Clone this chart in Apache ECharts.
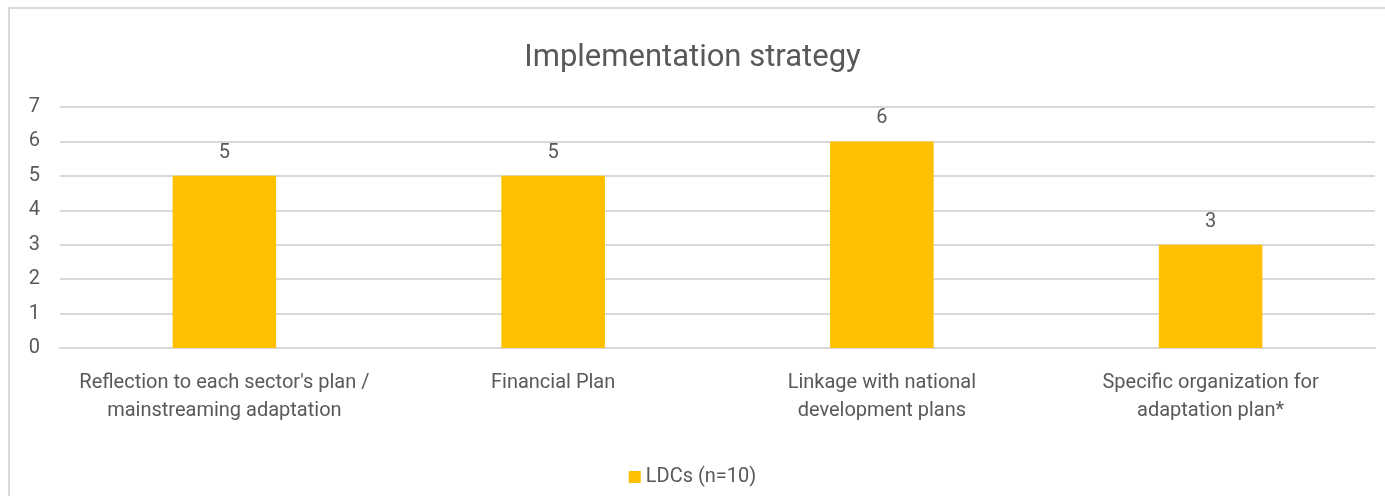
<!DOCTYPE html>
<html>
<head>
<meta charset="utf-8">
<script src="https://cdn.jsdelivr.net/npm/echarts@6/dist/echarts.min.js"></script>
<style>
  html, body { margin: 0; padding: 0; background: #fff; }
  #main { width: 1385px; height: 496px; }
</style>
</head>
<body>
<div id="main"></div>
<script>
const categories = [
  "Reflection to each sector's plan /\nmainstreaming adaptation",
  'Financial Plan',
  'Linkage with national\ndevelopment plans',
  'Specific organization for\nadaptation plan*'
];
const seriesName = 'LDCs (n=10)';
const values = [5, 5, 6, 3];
const yTicks = [0, 1, 2, 3, 4, 5, 6, 7];

const font = '"Roboto", "Liberation Sans", sans-serif';
const grey = '#595959';

let myChart = echarts.init(document.getElementById('main'));

const option = {
  backgroundColor: '#fff',
  textStyle: { fontFamily: font },
  title: {
    text: 'Implementation strategy',
    left: 'center',
    top: 38,
    textStyle: { fontFamily: font, fontSize: 31, fontWeight: 'normal', color: grey }
  },
  legend: {
    data: [seriesName],
    bottom: 4,
    left: 'center',
    icon: 'rect',
    itemWidth: 12,
    itemHeight: 12,
    itemGap: 7,
    textStyle: { fontFamily: font, fontSize: 20, color: grey }
  },
  grid: { left: 60, right: 10, top: 107, bottom: 148, containLabel: false },
  xAxis: {
    type: 'category',
    data: categories,
    axisLine: { show: true, lineStyle: { color: '#d9d9d9', width: 2 } },
    axisTick: { show: false },
    axisLabel: {
      interval: 0,
      margin: 21,
      fontFamily: font,
      fontSize: 20,
      lineHeight: 28,
      color: grey
    }
  },
  yAxis: {
    type: 'value',
    min: yTicks[0],
    max: yTicks[yTicks.length - 1],
    interval: 1,
    axisLine: { show: false },
    axisTick: { show: false },
    splitLine: { lineStyle: { color: '#d9d9d9', width: 2 } },
    axisLabel: { fontFamily: font, fontSize: 20, color: grey, margin: 20 }
  },
  series: [
    {
      name: seriesName,
      type: 'bar',
      data: values,
      barWidth: '31.5%',
      itemStyle: { color: '#ffc000' },
      label: {
        show: true,
        position: 'top',
        distance: 13,
        fontFamily: font,
        fontSize: 20,
        color: grey
      }
    }
  ],
  graphic: [
    {
      type: 'polyline',
      shape: { points: [[9, 496], [9, 8], [1385, 8]] },
      style: { stroke: '#d9d9d9', lineWidth: 2, fill: null },
      silent: true
    }
  ]
};

option && myChart.setOption(option);
</script>
</body>
</html>
